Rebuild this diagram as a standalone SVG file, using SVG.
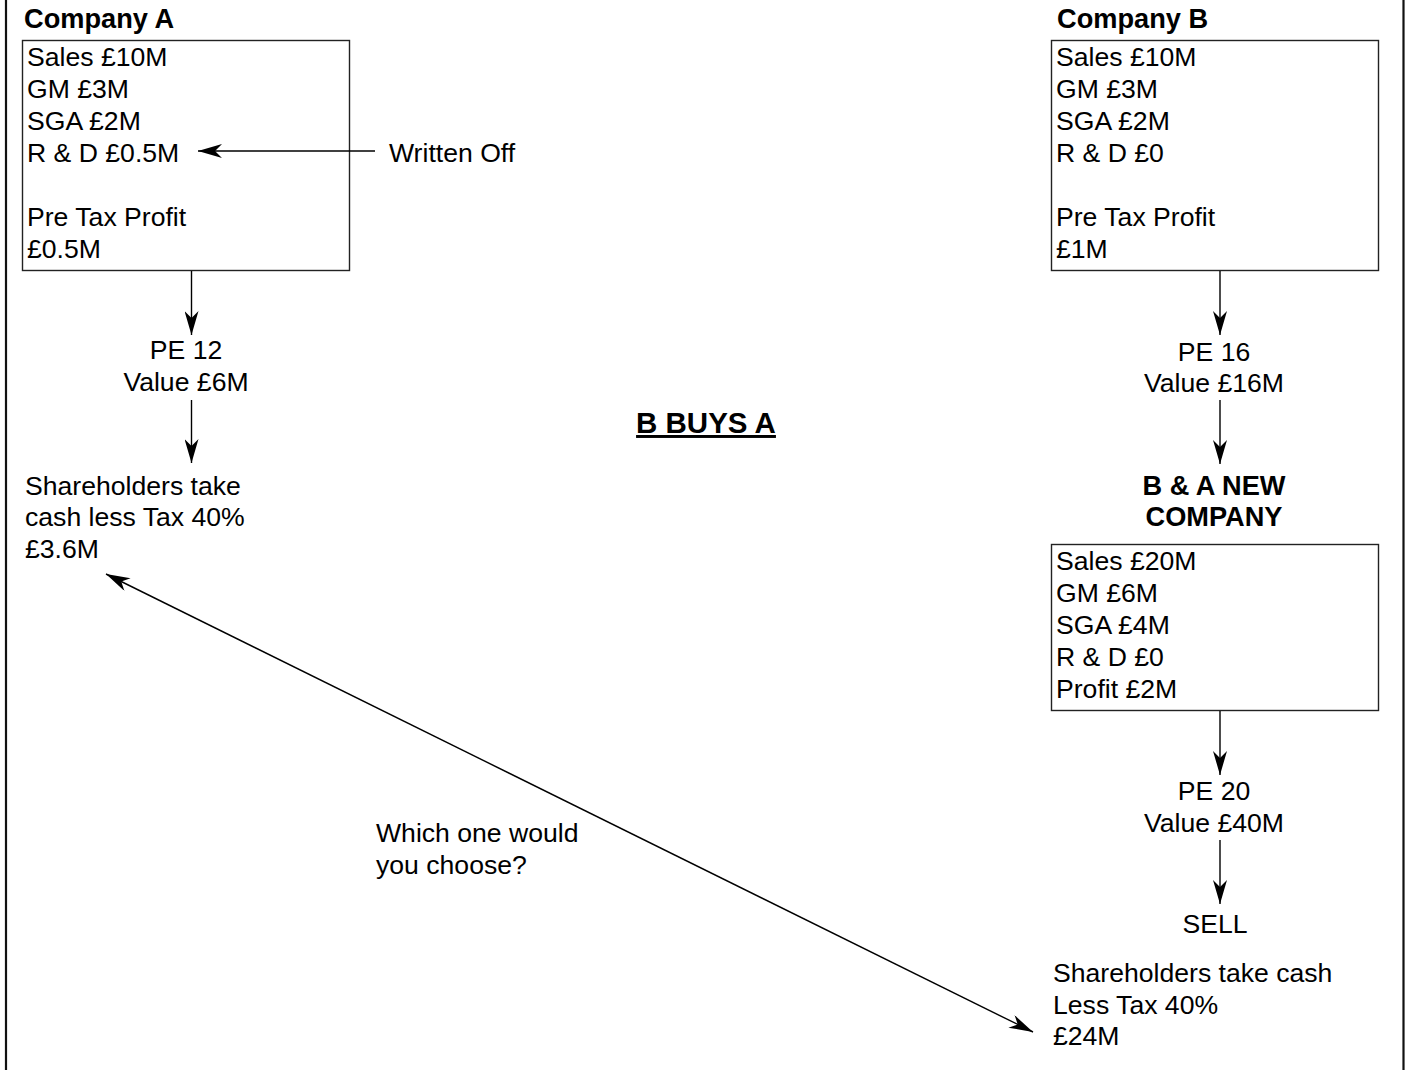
<svg xmlns="http://www.w3.org/2000/svg" width="1406" height="1070" viewBox="0 0 1406 1070">
<defs>
<style>
text{font-family:"Liberation Sans",Arial,sans-serif;font-size:26.6px;fill:#000}
.b{font-weight:bold;font-size:27.2px}
.c{text-anchor:middle}
.box{fill:#fff;stroke:#222;stroke-width:1.4}
.con{stroke:#000;stroke-width:1.4;fill:none}
.frame{stroke:#111;stroke-width:2.2}
</style>
<marker id="ah" markerUnits="userSpaceOnUse" markerWidth="25" markerHeight="14" refX="24" refY="7" orient="auto-start-reverse" viewBox="0 0 25 14">
<path d="M24,7 L0,0 L7,7 L0,14 Z" fill="#000"/>
</marker>
</defs>
<rect width="1406" height="1070" fill="#fff"/>
<line class="frame" x1="6" y1="0" x2="6" y2="1070"/>
<line class="frame" x1="1403.5" y1="0" x2="1403.5" y2="1070"/>

<g id="companyA">
<text class="b" x="24" y="28">Company A</text>
<rect class="box" x="22.5" y="40.5" width="327" height="230"/>
<text x="27" y="66">Sales £10M</text>
<text x="27" y="98">GM £3M</text>
<text x="27" y="130">SGA £2M</text>
<text x="27" y="162">R &amp; D £0.5M</text>
<text x="27" y="226">Pre Tax Profit</text>
<text x="27" y="258">£0.5M</text>
</g>
<g id="writtenOff"><text x="389" y="162">Written Off</text></g>
<g id="peA"><text class="c" x="186" y="359">PE 12</text><text class="c" x="186" y="391">Value £6M</text></g>
<g id="cashA"><text x="25" y="495">Shareholders take</text><text x="25" y="526">cash less Tax 40%</text><text x="25" y="558">£3.6M</text></g>

<g id="title"><text class="b c" x="706" y="433" style="font-size:29.5px" text-decoration="underline">B BUYS A</text></g>
<g id="question"><text x="376" y="842">Which one would</text><text x="376" y="874">you choose?</text></g>

<g id="companyB">
<text class="b" x="1057" y="28">Company B</text>
<rect class="box" x="1051.5" y="40.5" width="327" height="230"/>
<text x="1056" y="66">Sales £10M</text>
<text x="1056" y="98">GM £3M</text>
<text x="1056" y="130">SGA £2M</text>
<text x="1056" y="162">R &amp; D £0</text>
<text x="1056" y="226">Pre Tax Profit</text>
<text x="1056" y="258">£1M</text>
</g>
<g id="peB"><text class="c" x="1214" y="361">PE 16</text><text class="c" x="1214" y="392">Value £16M</text></g>
<g id="newCoLabel"><text class="b c" x="1214" y="495">B &amp; A NEW</text><text class="b c" x="1214" y="526">COMPANY</text></g>
<g id="newCo">
<rect class="box" x="1051.5" y="544.5" width="327" height="166"/>
<text x="1056" y="570">Sales £20M</text>
<text x="1056" y="602">GM £6M</text>
<text x="1056" y="634">SGA £4M</text>
<text x="1056" y="666">R &amp; D £0</text>
<text x="1056" y="698">Profit £2M</text>
</g>
<g id="peNew"><text class="c" x="1214" y="800">PE 20</text><text class="c" x="1214" y="832">Value £40M</text></g>
<g id="sell"><text class="c" x="1215" y="933">SELL</text></g>
<g id="cashB"><text x="1053" y="982">Shareholders take cash</text><text x="1053" y="1014">Less Tax 40%</text><text x="1053" y="1045">£24M</text></g>

<g id="connectors">
<line class="con" x1="375" y1="151" x2="198" y2="151" marker-end="url(#ah)"/>
<line class="con" x1="191.5" y1="271" x2="191.5" y2="335" marker-end="url(#ah)"/>
<line class="con" x1="191.5" y1="400" x2="191.5" y2="463" marker-end="url(#ah)"/>
<line class="con" x1="1220" y1="271" x2="1220" y2="335" marker-end="url(#ah)"/>
<line class="con" x1="1220" y1="400" x2="1220" y2="464" marker-end="url(#ah)"/>
<line class="con" x1="1220" y1="711" x2="1220" y2="775" marker-end="url(#ah)"/>
<line class="con" x1="1220" y1="840" x2="1220" y2="904" marker-end="url(#ah)"/>
<line class="con" x1="106" y1="574" x2="1033" y2="1032" marker-start="url(#ah)" marker-end="url(#ah)"/>
</g>
</svg>
